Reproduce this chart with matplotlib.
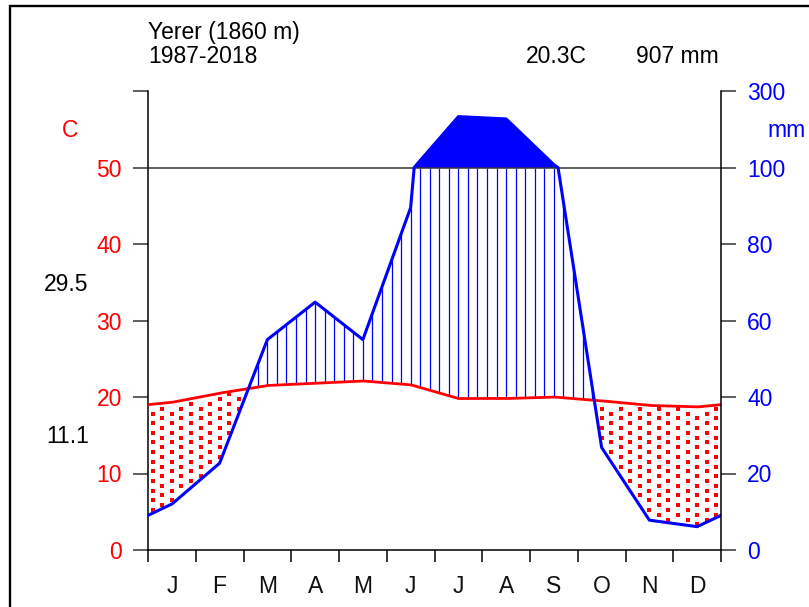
import numpy as np
import matplotlib
matplotlib.use('Agg')
import matplotlib.pyplot as plt
from matplotlib.lines import Line2D

# ---------------- data ----------------
months = ['J', 'F', 'M', 'A', 'M', 'J', 'J', 'A', 'S', 'O', 'N', 'D']
temp = [19.3, 20.5, 21.5, 21.8, 22.1, 21.6, 19.8, 19.8, 20.0, 19.5, 18.9, 18.7]
prec = [12.0, 22.7, 55.0, 64.8, 55.0, 89.5, 233.0, 227.0, 107.0, 26.8, 7.8, 6.1]
station = 'Yerer (1860 m)'
period = '1987-2018'
mean_t = '20.3C'
total_p = '907 mm'
abs_max = '29.5'
abs_min = '11.1'
left_ticks = [0, 10, 20, 30, 40, 50, 60]
left_labels = ['0', '10', '20', '30', '40', '50', '']
right_labels = ['0', '20', '40', '60', '80', '100', '300']

plt.rcParams['font.family'] = ['Liberation Sans', 'DejaVu Sans']
FS = 16.5

W, H = 809, 607
fig = plt.figure(figsize=(W / 100, H / 100), dpi=100)
ax = fig.add_axes([148 / W, (H - 550) / H, 573 / W, (550 - 91) / H])
ax.set_xlim(0, 12)
ax.set_ylim(0, 60)

RED = '#FF0000'
BLUE = '#0000FF'


def scale(p):
    p = np.asarray(p, dtype=float)
    return np.where(p > 100, 50 + (p - 100) / 20.0, p / 2.0)


xm = np.arange(12) + 0.5
xe = np.concatenate([[-0.5], xm, [12.5]])
te = np.concatenate([[temp[-1]], temp, [temp[0]]])
pe = np.concatenate([[prec[-1]], prec, [prec[0]]])
xd = np.linspace(-0.5, 12.5, 2601)
td = np.interp(xd, xe, te)
ps = scale(np.interp(xd, xe, pe))

# solid fill above 100 mm
ax.fill_between(xd, 50, ps, where=ps >= 50, interpolate=True, color=BLUE, lw=0, zorder=2)

# humid hatching and dry dots
xc = 0.1 + 0.2 * np.arange(60)
tc = np.interp(xc, xe, te)
pc = scale(np.interp(xc, xe, pe))
hum = pc > tc
ax.vlines(xc[hum], tc[hum], np.minimum(pc[hum], 50), color=BLUE, lw=0.9, zorder=2)

dx, dy = [], []
for k, (x, t, p) in enumerate(zip(xc, tc, pc)):
    if p < t:
        base = 0.2 + (0.63 if k % 2 else 0.0)
        ys = base + 1.26 * np.arange(0, 50)
        ys = ys[(ys < t - 0.3) & (ys > p + 0.3)]
        dx.extend([x] * len(ys))
        dy.extend(ys)
ax.plot(dx, dy, ls='none', marker='s', ms=2.2, color=RED, mew=0, zorder=2,
        antialiased=False)

ax.axhline(50, color='#333333', lw=1.1, zorder=3)
ax.plot(xd, td, color=RED, lw=2.0, zorder=4)
ax.plot(xd, ps, color=BLUE, lw=2.2, zorder=5)

# axes styling
ax.spines['top'].set_visible(False)
ax.spines['right'].set_visible(False)
for s in ['left', 'bottom']:
    ax.spines[s].set_linewidth(1.1)
    ax.spines[s].set_color('black')

ax.set_yticks(left_ticks)
ax.set_yticklabels(left_labels)
ax.tick_params(axis='y', direction='out', length=10.8, width=1.1, pad=8,
               labelsize=FS, labelcolor=RED, color='#333333')

ax.set_xticks(np.arange(13))
ax.set_xticklabels([])
ax.set_xticks(xm, minor=True)
ax.set_xticklabels(months, minor=True)
ax.tick_params(axis='x', which='major', direction='out', length=8.6, width=1.1, color='black')
ax.tick_params(axis='x', which='minor', length=0, pad=18, labelsize=FS, labelcolor='#111111')

ax2 = ax.twinx()
ax2.set_ylim(0, 60)
for s in ['top', 'left', 'bottom']:
    ax2.spines[s].set_visible(False)
ax2.spines['right'].set_linewidth(1.1)
ax2.set_yticks(left_ticks)
ax2.set_yticklabels(right_labels)
ax2.tick_params(axis='y', direction='out', length=10.8, width=1.1, pad=8,
                labelsize=FS, labelcolor=BLUE, color='#333333')


def ftext(x, y, s, **kw):
    fig.text(x / W, 1 - y / H, s, fontsize=FS, va='baseline', **kw)


ftext(148, 39.5, station, ha='left')
ftext(148, 63.3, period, ha='left')
ftext(526, 63.3, mean_t, ha='left')
ftext(636, 63.3, total_p, ha='left')
ftext(70, 137, 'C', ha='center', color=RED)
ftext(787, 137, 'mm', ha='center', color=BLUE)
ftext(44, 290.7, abs_max, ha='left')
ftext(46, 443, abs_min, ha='left')

# outer frame (partially outside the image)
fig.add_artist(Line2D([9.5 / W, 9.5 / W, 1.05], [-0.05, 1 - 6 / H, 1 - 6 / H],
                      transform=fig.transFigure, color='black', lw=1.7,
                      solid_joinstyle='miter'))

fig.savefig('out.png', dpi=100)
